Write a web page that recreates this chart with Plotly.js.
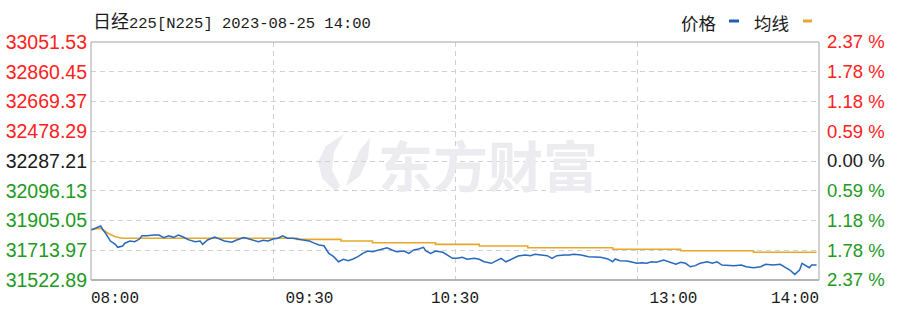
<!DOCTYPE html>
<html>
<head>
<meta charset="utf-8">
<script src="https://cdn.plot.ly/plotly-3.0.1.min.js"></script>
<style>html,body{margin:0;padding:0;background:#fff;}#chart{width:900px;height:324px;}</style>
</head>
<body>
<div id="chart"></div>
<script>
// ---- data ----
const titleText = "日经225[N225] 2023-08-25 14:00";
const seriesNames = ["价格", "均线"];
const basePrice = 32287.21;
const yTickVals = [33051.53, 32860.45, 32669.37, 32478.29, 32287.21, 32096.13, 31905.05, 31713.97, 31522.89];
const yTickLeft = ["33051.53", "32860.45", "32669.37", "32478.29", "32287.21", "32096.13", "31905.05", "31713.97", "31522.89"];
const yTickRight = ["2.37 %", "1.78 %", "1.18 %", "0.59 %", "0.00 %", "0.59 %", "1.18 %", "1.78 %", "2.37 %"];
const xTickVals = [0, 90, 150, 240, 300];
const xTickText = ["08:00", "09:30", "10:30", "13:00", "14:00"];
const xGridVals = [75, 150, 225];
// minutes from session open (08:00, lunch break removed, 300 trading minutes)
const priceMinutes = [0,4,5,6,8,10,11,13,14,16,18,20,21,23,26,28,30,32,34,36,38,40,43,45,46,48,51,53,55,58,60,63,65,67,69,71,73,75,77,79,81,83,85,87,90,92,94,96,98,100,102,104,106,108,110,112,114,116,119,122,124,126,129,131,133,135,137,138,140,142,145,147,149,151,153,155,158,160,162,165,167,169,171,174,176,179,181,183,185,188,190,192,195,197,199,202,205,208,210,213,215,216,218,221,223,225,227,229,231,233,236,238,241,243,245,247,249,251,254,256,258,260,263,265,268,270,273,276,278,281,284,286,288,290,292,293,294,296,297,299];
const priceValues = [31844,31870,31844,31823,31773,31752,31733,31741,31759,31773,31769,31786,31807,31807,31812,31812,31795,31807,31797,31812,31799,31782,31769,31773,31752,31780,31799,31786,31773,31765,31780,31795,31786,31778,31769,31778,31773,31786,31791,31807,31791,31791,31786,31778,31773,31760,31748,31743,31694,31673,31640,31656,31647,31658,31673,31694,31709,31705,31717,31730,31716,31705,31709,31694,31716,31722,31733,31709,31694,31709,31701,31679,31662,31662,31669,31656,31662,31656,31640,31630,31645,31662,31640,31662,31677,31683,31679,31688,31683,31679,31662,31679,31683,31683,31688,31683,31673,31669,31669,31658,31640,31658,31647,31645,31637,31630,31634,31630,31640,31637,31651,31640,31624,31637,31630,31608,31615,31630,31640,31630,31640,31619,31615,31615,31619,31608,31602,31608,31624,31619,31624,31608,31587,31559,31587,31630,31619,31602,31619,31619];
const avgMinutes = [0,4,7,10,13,85,85,103,103,116,116,142,142,160,160,180,180,215,215,243,243,273,273,299];
const avgValues = [31848,31855,31823,31801,31791,31791,31784,31784,31773,31773,31762,31762,31752,31752,31741,31741,31730,31730,31720,31720,31711,31711,31701,31701];

// ---- styling ----
const RED = "#ff2020", GREEN = "#1e9a1e", BLACK = "#1a1a1a";
function tickColor(i) { return i < 4 ? RED : (i === 4 ? BLACK : GREEN); }
const leftText = yTickLeft.map((t, i) => '<span style="color:' + tickColor(i) + '">' + t + '</span>');
const rightText = yTickRight.map((t, i) => '<span style="color:' + tickColor(i) + '">' + t + '</span>');
const NB = "\u00a0\u00a0\u00a0\u00a0\u00a0";
const xText = xTickText.map((t, i) => i === 0 ? NB + t : (i === xTickText.length - 1 ? t + NB : t));

const L = 91, R = 819, T = 42, B = 280;
const px = v => (v - L) / (R - L);
const py = v => (B - v) / (B - T);

const traces = [
  { x: avgMinutes, y: avgValues, type: "scatter", mode: "lines", name: seriesNames[1],
    line: { color: "#e8a82a", width: 1.6 }, hoverinfo: "skip" },
  { x: priceMinutes, y: priceValues, type: "scatter", mode: "lines", name: seriesNames[0],
    line: { color: "#2868bd", width: 1.5 }, hoverinfo: "skip" },
  { x: [0], y: [basePrice], yaxis: "y2", type: "scatter", mode: "markers",
    marker: { opacity: 0 }, hoverinfo: "skip", showlegend: false }
];

// watermark logo path in pixel coordinates converted to paper
function pathFrom(pts) {
  return pts.map(p => (p[0] + " " + px(p[1]).toFixed(4) + "," + py(p[2]).toFixed(4))).join(" ") + " Z";
}
const logo1 = pathFrom([["M",336,192],["L",322,178],["L",318,162],["L",326,146],["L",344,134],["L",334,152],["L",332,170],["L",340,186]]);
const logo2 = pathFrom([["M",346,186],["L",352,168],["L",360,150],["L",370,138],["L",368,158],["L",360,176]]);

const layout = {
  width: 900, height: 324,
  margin: { l: L, r: 900 - R, t: T, b: 324 - B, pad: 0 },
  paper_bgcolor: "#ffffff", plot_bgcolor: "#ffffff",
  showlegend: false,
  xaxis: {
    range: [0, 300], showgrid: false, zeroline: false, showline: false,
    tickmode: "array", tickvals: xTickVals, ticktext: xText, ticks: "",
    tickfont: { family: "Liberation Mono, DejaVu Sans Mono, monospace", size: 16, color: "#1a1a1a" },
    ticklabelstandoff: 6,
    minor: { tickmode: "array", tickvals: xGridVals, showgrid: true, gridcolor: "#cfcfcf", griddash: "5px,4px", gridwidth: 1, ticks: "" },
    fixedrange: true
  },
  yaxis: {
    range: [yTickVals[8], yTickVals[0]], tickmode: "array", tickvals: yTickVals, ticktext: leftText,
    showgrid: true, gridcolor: "#d2d2d2", griddash: "5px,4px", gridwidth: 1,
    zeroline: false, showline: false, ticks: "",
    tickfont: { family: "Liberation Sans, Arial, sans-serif", size: 19.5, color: BLACK },
    ticklabelstandoff: 3, fixedrange: true
  },
  yaxis2: {
    overlaying: "y", side: "right", range: [yTickVals[8], yTickVals[0]],
    tickmode: "array", tickvals: yTickVals, ticktext: rightText,
    showgrid: false, zeroline: false, showline: false, ticks: "",
    tickfont: { family: "Liberation Sans, Arial, sans-serif", size: 18.5, color: BLACK },
    ticklabelstandoff: 7, fixedrange: true
  },
  shapes: [
    { type: "path", xref: "paper", yref: "paper", path: logo1, fillcolor: "#ececf0", line: { width: 0 }, layer: "below" },
    { type: "path", xref: "paper", yref: "paper", path: logo2, fillcolor: "#ececf0", line: { width: 0 }, layer: "below" },
    { type: "rect", xref: "paper", yref: "paper", x0: 0, x1: 1, y0: 0, y1: 1, line: { color: "#a4a4a4", width: 1 } },
    { type: "line", xref: "paper", yref: "paper", x0: 0, x1: 1, y0: 0, y1: 0, line: { color: "#b5b5b5", width: 2 } },
    { type: "line", xref: "paper", yref: "paper", x0: px(729), x1: px(739), y0: py(21), y1: py(21), line: { color: "#1f5fb5", width: 3 } },
    { type: "line", xref: "paper", yref: "paper", x0: px(803), x1: px(812), y0: py(21), y1: py(21), line: { color: "#e3a92c", width: 3 } }
  ],
  annotations: [
    { xref: "paper", yref: "paper", x: px(91), y: py(22), xanchor: "left", yanchor: "middle", showarrow: false,
      text: '<span style="font-size:18px">日经</span>225[N225] 2023-08-25 14:00',
      font: { family: "Liberation Mono, Noto Sans CJK SC, monospace", size: 15.5, color: "#1a1a1a" } },
    { xref: "paper", yref: "paper", x: px(679), y: py(22), xanchor: "left", yanchor: "middle", showarrow: false,
      text: seriesNames[0], font: { family: "Noto Sans CJK SC", size: 17.5, color: "#1a1a1a" } },
    { xref: "paper", yref: "paper", x: px(752), y: py(22), xanchor: "left", yanchor: "middle", showarrow: false,
      text: seriesNames[1], font: { family: "Noto Sans CJK SC", size: 17.5, color: "#1a1a1a" } },
    { xref: "paper", yref: "paper", x: px(488), y: py(163), xanchor: "center", yanchor: "middle", showarrow: false,
      text: "<b>东方财富</b>", font: { family: "Noto Sans CJK SC", size: 55, color: "#ececf0" } }
  ]
};

Plotly.newPlot("chart", traces, layout, { staticPlot: true, displayModeBar: false });
</script>
</body>
</html>
